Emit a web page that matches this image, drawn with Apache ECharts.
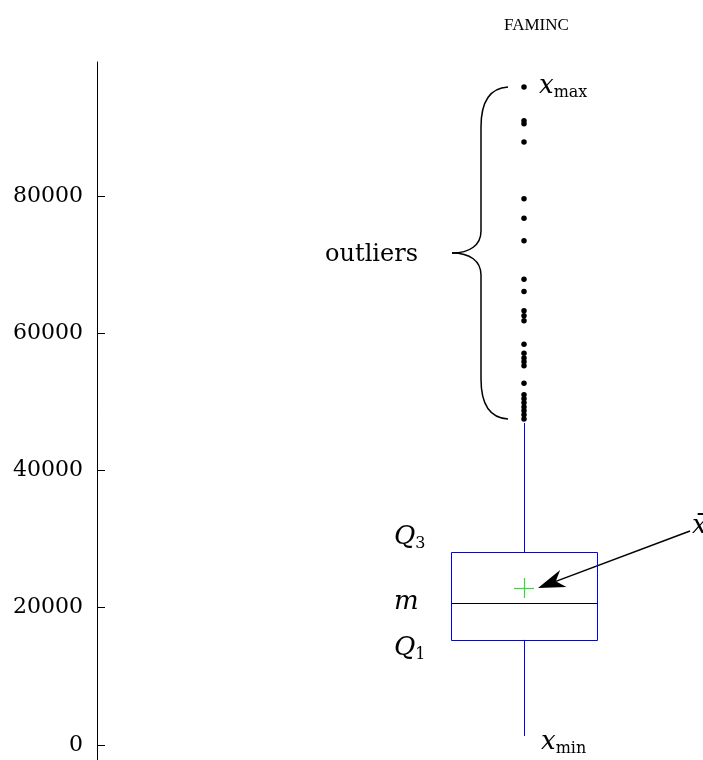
<!DOCTYPE html>
<html><head><meta charset="utf-8">
<script src="https://cdn.jsdelivr.net/npm/echarts@6/dist/echarts.min.js"></script>
<style>html,body{margin:0;padding:0;background:#fff}#c{width:703px;height:760px}</style>
</head><body><div id="c"></div>
<script>
// ---- data ----
const categories = ['FAMINC'];
const whiskerLow = [1300];
const q1 = [15300];
const median = [20700];
const q3 = [28100];
const whiskerHigh = [46900];
const mean = [22860];
const outliers = [95840, 90930, 90490, 87830, 79560, 76750, 73440, 67860, 66060, 63240, 62510, 61790,
  58360, 57080, 56390, 55810, 55230, 52710, 51000, 50420, 49840, 49250, 48670, 48090, 47500];
const yTicks = [0, 20000, 40000, 60000, 80000];
const yMin = -2200, yMax = 99500;

const SERIF = '"DejaVu Serif", serif';
const chart = echarts.init(document.getElementById('c'), null, {renderer: 'canvas'});

const boxData = categories.map((c, i) => [i, whiskerLow[i], q1[i], median[i], q3[i], whiskerHigh[i], mean[i]]);
const outlierData = outliers.map(v => [0, v]);

function crisp(v) { return Math.round(v) + 0.5; }

chart.setOption({
  animation: false,
  backgroundColor: '#fff',
  title: {
    text: categories[0], left: 499, top: 12,
    textStyle: {fontFamily: '"Liberation Serif", serif', fontSize: 17, fontWeight: 'normal', color: '#000'}
  },
  grid: {left: 451, width: 146, top: 62, bottom: 0, containLabel: false},
  xAxis: {type: 'category', data: categories, show: false},
  yAxis: {
    type: 'value', min: yMin, max: yMax, offset: 354, position: 'left',
    splitLine: {show: false},
    axisLine: {show: true, lineStyle: {color: '#000', width: 1}},
    axisTick: {show: true, inside: true, length: 8, customValues: yTicks, lineStyle: {color: '#000'}},
    axisLabel: {customValues: yTicks, margin: 14, fontFamily: SERIF, fontSize: 22, color: '#000',
      formatter: v => String(v)}
  },
  series: [
    {
      type: 'custom',
      data: boxData,
      encode: {x: 0, y: [1, 2, 3, 4, 5, 6]},
      renderItem: function (params, api) {
        const i = api.value(0);
        const w = api.size([1, 0])[0];
        const cx = api.coord([i, api.value(3)])[0];
        const y = k => api.coord([i, api.value(k)])[1];
        const yLo = y(1), yQ1 = y(2), yMed = y(3), yQ3 = y(4), yHi = y(5), yMean = y(6);
        const x0 = crisp(cx - w / 2), x1 = crisp(cx + w / 2), xc = crisp(cx);
        const blue = {stroke: '#0000ff', lineWidth: 1, fill: null};
        return {
          type: 'group',
          children: [
            {type: 'line', shape: {x1: xc, y1: yQ1, x2: xc, y2: yLo}, style: blue},
            {type: 'line', shape: {x1: xc, y1: yQ3, x2: xc, y2: yHi}, style: blue},
            {type: 'rect', shape: {x: x0, y: crisp(yQ3), width: x1 - x0, height: Math.round(yQ1) - Math.round(yQ3)}, style: blue},
            {type: 'line', shape: {x1: x0, y1: crisp(yMed), x2: x1, y2: crisp(yMed)}, style: {stroke: '#000', lineWidth: 1}},
            {type: 'line', shape: {x1: cx - 10, y1: crisp(yMean), x2: cx + 10, y2: crisp(yMean)}, style: {stroke: '#33dd33', lineWidth: 1.2}},
            {type: 'line', shape: {x1: xc, y1: yMean - 10, x2: xc, y2: yMean + 10}, style: {stroke: '#33dd33', lineWidth: 1.2}}
          ]
        };
      }
    },
    {
      type: 'scatter',
      data: outlierData,
      symbol: 'circle',
      symbolSize: 5.5,
      itemStyle: {color: '#000', opacity: 1},
      z: 5
    }
  ]
});

// ---- annotations positioned from data via the chart's scales ----
const P = v => chart.convertToPixel({gridIndex: 0}, [0, v]);
const cx = P(median[0])[0];
const yTop = P(Math.max(...outliers))[1];
const yBot = P(Math.min(...outliers))[1];
const yMid = (yTop + yBot) / 2;
const xEnd = cx - 16, xV = cx - 43, xTip = cx - 72;
const bs = {stroke: '#000', lineWidth: 1.5, fill: null};
function bez(x1, y1, cpx1, cpy1, cpx2, cpy2, x2, y2) {
  return {type: 'bezierCurve', shape: {x1, y1, cpx1, cpy1, cpx2, cpy2, x2, y2}, style: bs};
}
function seg(x1, y1, x2, y2) { return {type: 'line', shape: {x1, y1, x2, y2}, style: bs}; }
const braceParts = [
  bez(xEnd, yTop, xEnd - 18, yTop + 1, xV, yTop + 14, xV, yTop + 40),
  seg(xV, yTop + 40, xV, yMid - 22),
  bez(xV, yMid - 22, xV, yMid - 8, xV - 11, yMid, xTip, yMid),
  bez(xTip, yMid, xV - 11, yMid, xV, yMid + 8, xV, yMid + 22),
  seg(xV, yMid + 22, xV, yBot - 40),
  bez(xV, yBot - 40, xV, yBot - 14, xEnd - 18, yBot - 1, xEnd, yBot)
];

const yMean = P(mean[0])[1];
const tip = [cx + 14, yMean];
const start = [690, yMean - 57];
const dx = start[0] - tip[0], dy = start[1] - tip[1];
const L = Math.hypot(dx, dy), ux = dx / L, uy = dy / L, nx = -uy, ny = ux;
const aLen = 27, aW = 9, notch = 19;
const head = [
  tip,
  [tip[0] + ux * aLen + nx * aW, tip[1] + uy * aLen + ny * aW],
  [tip[0] + ux * notch, tip[1] + uy * notch],
  [tip[0] + ux * aLen - nx * aW, tip[1] + uy * aLen - ny * aW]
];

const mathRich = {
  i: {fontFamily: SERIF, fontStyle: 'italic', fontSize: 26, color: '#000', verticalAlign: 'middle', lineHeight: 30},
  s: {fontFamily: SERIF, fontSize: 16, color: '#000', verticalAlign: 'bottom', lineHeight: 30}
};
function label(x, y, text) {
  return {type: 'text', x: x, y: y, style: {text: text, rich: mathRich, verticalAlign: 'middle', align: 'left', fill: '#000'}};
}

const yQ3 = P(q3[0])[1], yQ1 = P(q1[0])[1], yMed = P(median[0])[1], yLo = P(whiskerLow[0])[1];

chart.setOption({
  graphic: braceParts.concat([
    {type: 'text', x: xTip - 34, y: yMid + 2, style: {text: 'outliers', font: '24px ' + SERIF, fill: '#000', align: 'right', verticalAlign: 'middle'}},
    {type: 'line', shape: {x1: start[0], y1: start[1], x2: tip[0] + ux * notch, y2: tip[1] + uy * notch}, style: {stroke: '#000', lineWidth: 1.5}},
    {type: 'polygon', shape: {points: head}, style: {fill: '#000'}},
    label(692, start[1] - 5, '{i|x̄}'),
    label(cx + 15, yTop - 1, '{i|x}{s|max}'),
    label(cx + 17, yLo + 6, '{i|x}{s|min}'),
    label(394, yQ3 - 15, '{i|Q}{s|3}'),
    label(394, yMed - 1, '{i|m}'),
    label(394, yQ1 + 8, '{i|Q}{s|1}')
  ])
});
</script>
</body></html>
